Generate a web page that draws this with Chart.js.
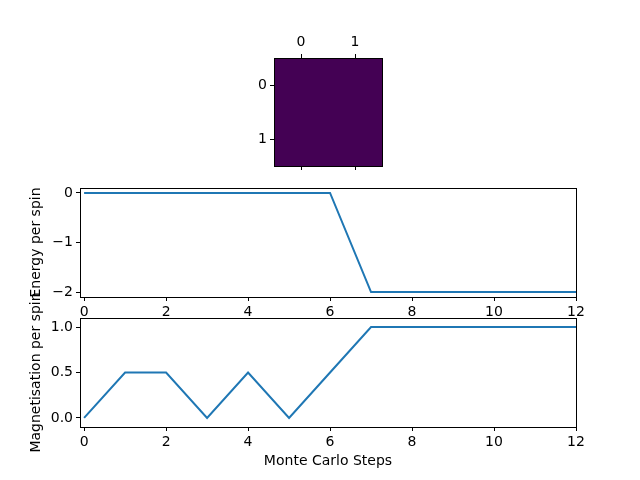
<!DOCTYPE html>
<html>
<head>
<meta charset="utf-8">
<script src="https://cdn.jsdelivr.net/npm/chart.js@4"></script>
<style>
  body { margin: 0; background: #fff; }
  .wrap { position: relative; width: 640px; height: 480px; }
  canvas { position: absolute; left: 0; top: 0; }
</style>
</head>
<body>
<div class="wrap">
  <canvas id="latticeChart" width="640" height="480"></canvas>
  <canvas id="energyChart" width="640" height="480"></canvas>
  <canvas id="magnetChart" width="640" height="480"></canvas>
</div>
<script>
// ------------------- data -------------------
const steps = [0, 1, 2, 3, 4, 5, 6, 7, 8, 9, 10, 11, 12];
const energy = [0, 0, 0, 0, 0, 0, 0, -2, -2, -2, -2, -2, -2];
const magnetisation = [0, 0.5, 0.5, 0, 0.5, 0, 0.5, 1, 1, 1, 1, 1, 1];
const spinGrid = [
  [1, 1],
  [1, 1],
];
const latticeTicks = [0, 1];
const stepTicks = [0, 2, 4, 6, 8, 10, 12];
const energyTicks = [-2, -1, 0];
const magnetTicks = [0, 0.5, 1];
const viridis = ["#440154", "#3b528b", "#21918c", "#5ec962", "#fde725"];

// ------------------- shared setup -------------------
Chart.defaults.font.family = "'DejaVu Sans', sans-serif";
Chart.defaults.font.size = 14;
Chart.defaults.color = "#000";

const minus = (s) => String(s).replace("-", "\u2212");
const fixTicks = (list) => (scale) => {
  scale.ticks = list.map((v) => ({ value: v }));
};

// black frame round the plot area, like matplotlib spines
const framePlugin = {
  id: "frame",
  afterDraw(chart) {
    const { ctx, chartArea: a } = chart;
    ctx.save();
    ctx.strokeStyle = "#000";
    ctx.lineWidth = 1;
    ctx.strokeRect(Math.round(a.left) + 0.5, Math.round(a.top) + 0.5,
      Math.round(a.right - a.left), Math.round(a.bottom - a.top));
    ctx.restore();
  },
};

// cells of the spin lattice, drawn through the chart's own scales
const cellPlugin = {
  id: "cells",
  beforeDatasetsDraw(chart) {
    const { ctx, scales } = chart;
    const flat = spinGrid.flat();
    const lo = Math.min(...flat);
    const hi = Math.max(...flat);
    spinGrid.forEach((row, r) => {
      row.forEach((v, c) => {
        const t = hi === lo ? 0 : (v - lo) / (hi - lo);
        const x0 = scales.x.getPixelForValue(c - 0.5);
        const x1 = scales.x.getPixelForValue(c + 0.5);
        const y0 = scales.y.getPixelForValue(r - 0.5);
        const y1 = scales.y.getPixelForValue(r + 0.5);
        ctx.fillStyle = viridis[Math.round(t * (viridis.length - 1))];
        ctx.fillRect(x0, Math.min(y0, y1), x1 - x0, Math.abs(y1 - y0));
      });
    });
  },
};

const tickGrid = {
  drawOnChartArea: false,
  drawTicks: true,
  tickLength: 4,
  color: "#000",
  lineWidth: 1,
};

const baseOptions = {
  responsive: false,
  devicePixelRatio: 1,
  animation: false,
  plugins: { legend: { display: false }, tooltip: { enabled: false } },
};

// ------------------- lattice image -------------------
new Chart(document.getElementById("latticeChart"), {
  type: "scatter",
  data: { datasets: [] },
  options: {
    ...baseOptions,
    layout: { padding: { left: 200, right: 258, top: 26, bottom: 304 } },
    scales: {
      x: {
        type: "linear",
        position: "top",
        min: -0.5,
        max: 1.5,
        afterBuildTicks: fixTicks(latticeTicks),
        afterFit: (s) => { s.height = 32; },
        grid: tickGrid,
        border: { display: false },
        ticks: { padding: 3, maxRotation: 0 },
      },
      xb: {
        type: "linear",
        position: "bottom",
        min: -0.5,
        max: 1.5,
        afterBuildTicks: fixTicks(latticeTicks),
        afterFit: (s) => { s.height = 10; },
        grid: tickGrid,
        border: { display: false },
        ticks: { color: "rgba(0,0,0,0)" },
      },
      y: {
        type: "linear",
        reverse: true,
        min: -0.5,
        max: 1.5,
        afterBuildTicks: fixTicks(latticeTicks),
        afterFit: (s) => { s.width = 74; },
        grid: tickGrid,
        border: { display: false },
        ticks: { padding: 3 },
      },
    },
  },
  plugins: [cellPlugin, framePlugin],
});

// ------------------- energy / magnetisation lines -------------------
const lineChart = (id, values, yTicks, yMin, yMax, yLabel, fmt, pad, xTitle, xHeight) =>
  new Chart(document.getElementById(id), {
    type: "line",
    data: {
      datasets: [
        {
          data: steps.map((s, i) => ({ x: s, y: values[i] })),
          borderColor: "#1f77b4",
          borderWidth: 2,
          pointRadius: 0,
          tension: 0,
        },
      ],
    },
    options: {
      ...baseOptions,
      layout: { padding: pad },
      scales: {
        x: {
          type: "linear",
          min: -0.1,
          max: 12,
          afterBuildTicks: fixTicks(stepTicks),
          afterFit: (s) => { s.height = xHeight; },
          grid: tickGrid,
          border: { display: false },
          ticks: { padding: 3, maxRotation: 0, callback: (v) => minus(v) },
          title: { display: !!xTitle, text: xTitle, padding: 0 },
        },
        y: {
          type: "linear",
          min: yMin,
          max: yMax,
          afterBuildTicks: fixTicks(yTicks),
          afterFit: (s) => { s.width = 52; },
          grid: tickGrid,
          border: { display: false },
          ticks: { padding: 3, callback: fmt },
          title: { display: true, text: yLabel, padding: 0 },
        },
      },
    },
    plugins: [framePlugin],
  });

lineChart("energyChart", energy, energyTicks, -2.1, 0.1, "Energy per spin",
  (v) => minus(v), { left: 28, right: 64, top: 188, bottom: 158 }, "", 25);

lineChart("magnetChart", magnetisation, magnetTicks, -0.1, 1.1, "Magnetisation per spin",
  (v) => v.toFixed(1), { left: 28, right: 64, top: 318, bottom: 10 }, "Monte Carlo Steps", 43);
</script>
</body>
</html>
